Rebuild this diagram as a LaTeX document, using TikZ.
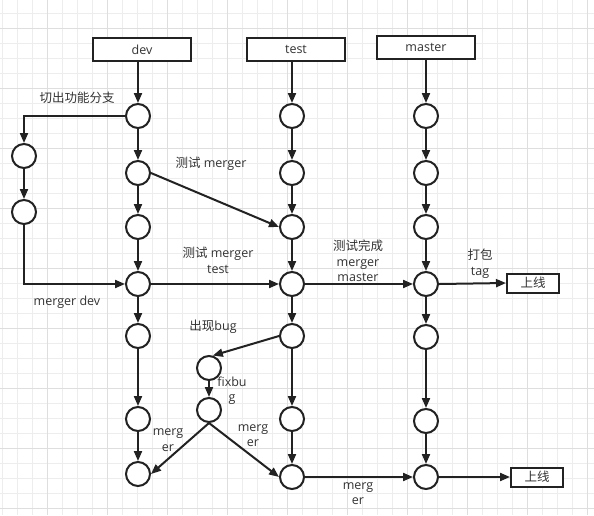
\documentclass[tikz,border=0pt]{standalone}
\usepackage{fontspec}
\setmainfont{Open Sans}
\newfontfamily\cjk{Noto Sans CJK SC}
\usetikzlibrary{arrows.meta}
\definecolor{gminor}{HTML}{EDEDED}
\definecolor{gmajor}{HTML}{DEDEDE}
\definecolor{ink}{HTML}{222222}
\definecolor{txt}{HTML}{333333}
\begin{document}
\begin{tikzpicture}[x=1pt,y=-1pt,
  commit/.style={circle,draw=ink,line width=2pt,minimum size=24pt,inner sep=0pt,fill=white},
  branchbox/.style={draw=ink,line width=2pt,minimum width=98pt,minimum height=23pt,inner sep=0pt,fill=white,text=txt,font=\fontsize{12.5}{15}\selectfont},
  livebox/.style={draw=ink,line width=2pt,minimum width=52pt,minimum height=19pt,inner sep=0pt,fill=white,text=txt,font=\fontsize{12.5}{15}\selectfont},
  flow/.style={draw=ink,line width=2pt,-{Triangle[length=10pt,width=8pt]}},
  lbl/.style={font=\fontsize{12.5}{15.5}\selectfont,align=center,inner sep=0pt,text=txt}]
\useasboundingbox (0,0) rectangle (594,515);
\fill[white] (0,0) rectangle (594,515);
% grid
\foreach \i in {0,...,39} \draw[gminor,line width=1pt] ({2.3+15*\i},0) -- ({2.3+15*\i},515);
\foreach \i in {0,...,34} \draw[gminor,line width=1pt] (0,{-1.7+15*\i}) -- (594,{-1.7+15*\i});
\foreach \i in {0,...,9} \draw[gmajor,line width=1pt] ({47.3+60*\i},0) -- ({47.3+60*\i},515);
\foreach \i in {0,...,8} \draw[gmajor,line width=1pt] (0,{28.3+60*\i}) -- (594,{28.3+60*\i});

% branch boxes
\node[branchbox] (devbox) at (142,49.5) {dev};
\node[branchbox] (testbox) at (296,49.5) {test};
\node[branchbox] (masterbox) at (426,47.5) {master};
\node[livebox] (live1) at (533,283) {\cjk 上线};
\node[livebox] (live2) at (537,477) {\cjk 上线};

% dev commits
\node[commit] (d1) at (138,116) {};
\node[commit] (d2) at (138,173) {};
\node[commit] (d3) at (138,227) {};
\node[commit] (d4) at (138,284) {};
\node[commit] (d5) at (138,336) {};
\node[commit] (d6) at (138,419) {};
\node[commit] (d7) at (138,474) {};
% feature branch
\node[commit] (f1) at (24,156) {};
\node[commit] (f2) at (24,212) {};
% test commits
\node[commit] (t1) at (292,116) {};
\node[commit] (t2) at (292,173) {};
\node[commit] (t3) at (292,227) {};
\node[commit] (t4) at (292,284) {};
\node[commit] (t5) at (292,336) {};
\node[commit] (t6) at (292,419) {};
\node[commit] (t7) at (292,477) {};
% bugfix
\node[commit] (b1) at (209,368) {};
\node[commit] (b2) at (209,410) {};
% master commits
\node[commit] (m1) at (426,116) {};
\node[commit] (m2) at (426,173) {};
\node[commit] (m3) at (426,227) {};
\node[commit] (m4) at (426,284) {};
\node[commit] (m5) at (426,337) {};
\node[commit] (m6) at (426,421) {};
\node[commit] (m7) at (426,477) {};

% vertical chains
\draw[flow] (devbox.south -| d1) -- (d1);
\draw[flow] (testbox.south -| t1) -- (t1);
\draw[flow] (masterbox) -- (m1);
\foreach \a/\b in {d1/d2,d2/d3,d3/d4,d4/d5,d5/d6,d6/d7,
                   t1/t2,t2/t3,t3/t4,t4/t5,t5/t6,t6/t7,
                   m1/m2,m2/m3,m3/m4,m4/m5,m5/m6,m6/m7,
                   f1/f2,b1/b2}
  \draw[flow] (\a) -- (\b);

% feature branch
\draw[flow] (d1.west) -| (f1.north);
\draw[flow] (f2.south) |- (d4.west);
% merges
\draw[flow] (d2.east) -- (t3.west);
\draw[flow] (d4.east) -- (t4.west);
\draw[flow] (t4.east) -- (m4.west);
\draw[flow] (m4.east) -- (live1.west);
\draw[flow] (t5.west) -- (b1.73);
\draw[flow] (b2.south) -- (d7.east);
\draw[flow] (b2.south) -- (t7.west);
\draw[flow] (t7.east) -- (m7.west);
\draw[flow] (m7.east) -- (live2.west);

% labels
\node[lbl] (l1) at (77,98) {\cjk 切出功能分支};
\node[lbl] (l2) at (211,164) {{\cjk 测试} merger};
\node[lbl] (l3) at (218,260.5) {{\cjk 测试} merger\\test};
\node[lbl] (l4) at (358,261) {\cjk 测试完成\\merger\\master};
\node[lbl] (l5) at (480,263.5) {\cjk 打包\\tag};
\node[lbl] (l6) at (67,302) {merger dev};
\node[lbl] (l7) at (213,327) {{\cjk 出现}bug};
\node[lbl] (l8) at (232,390.5) {fixbu\\g};
\node[lbl] (l9) at (168,440) {merg\\er};
\node[lbl] (l10) at (253,435.5) {merg\\er};
\node[lbl] (l11) at (358,493.5) {merg\\er};
\end{tikzpicture}
\end{document}
